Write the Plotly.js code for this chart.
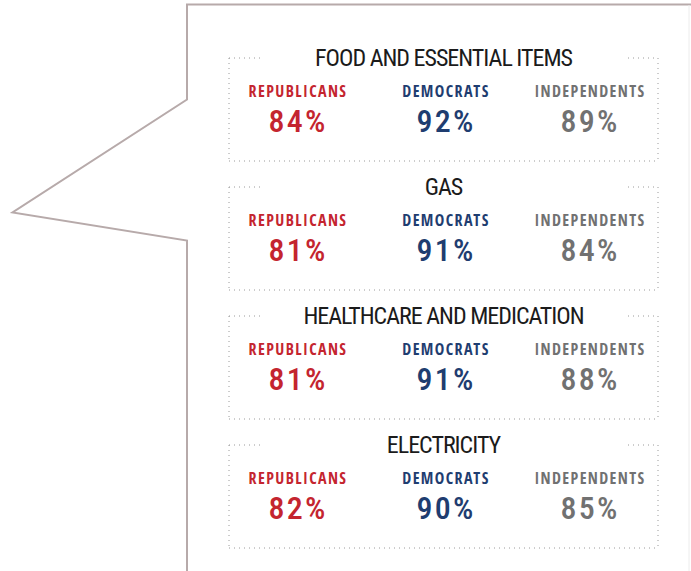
<!DOCTYPE html>
<html><head><meta charset="utf-8">
<script src="https://cdn.plot.ly/plotly-3.0.1.min.js"></script>
<style>body{margin:0;background:#fff}</style>
</head><body>
<div id="chart" style="width:691px;height:571px"></div>
<script>
// ---- data ----
var categories = ["FOOD AND ESSENTIAL ITEMS", "GAS", "HEALTHCARE AND MEDICATION", "ELECTRICITY"];
var parties = ["REPUBLICANS", "DEMOCRATS", "INDEPENDENTS"];
var republicans = [84, 81, 81, 82];
var democrats = [92, 91, 91, 90];
var independents = [89, 84, 88, 85];

// ---- layout constants (pixel axes) ----
var W = 691, H = 571;
var boxLeft = 229, boxRight = 658, boxTop0 = 58, boxH = 103, rowStep = 129;
var colX = [298, 446, 590];
var partyColors = ["#c4252f", "#1f3d70", "#717171"];
var series = [republicans, democrats, independents];
var titleFont = "Roboto Condensed";
var labelFont = "Open Sans Condensed";

var traces = [];
var cx = (boxLeft + boxRight) / 2;
traces.push({
  type: 'scatter', mode: 'text', showlegend: false, hoverinfo: 'skip',
  x: categories.map(function(){ return cx; }),
  y: categories.map(function(c, i){ return boxTop0 + 1.5 + i * rowStep; }),
  text: categories, textposition: 'middle center',
  textfont: {family: titleFont, size: 24, color: '#1b1b1b', weight: 400}
});
parties.forEach(function(p, j){
  traces.push({
    type: 'scatter', mode: 'text', showlegend: false, hoverinfo: 'skip',
    x: categories.map(function(){ return colX[j]; }),
    y: categories.map(function(c, i){ return boxTop0 + 35 + i * rowStep; }),
    text: categories.map(function(){ return p; }), textposition: 'middle center',
    textfont: {family: labelFont, size: 16, color: partyColors[j], weight: 700}
  });
});
series.forEach(function(s, j){
  traces.push({
    type: 'scatter', mode: 'text', showlegend: false, hoverinfo: 'skip',
    x: s.map(function(){ return colX[j]; }),
    y: s.map(function(v, i){ return boxTop0 + 66 + i * rowStep; }),
    text: s.map(function(v){ return v + '%'; }), textposition: 'middle center',
    textfont: {family: titleFont, size: 32, color: partyColors[j], weight: 500}
  });
});

var shapes = [];
var dot = {color: '#9a9a9a', width: 1, dash: '1px,4px'};
categories.forEach(function(c, i){
  var t = boxTop0 + i * rowStep, b = t + boxH;
  [[boxLeft, t, boxLeft, b], [boxRight, t, boxRight, b], [boxLeft, b, boxRight, b],
   [boxLeft, t, boxLeft + 31, t], [boxRight - 30, t, boxRight, t]].forEach(function(s){
    shapes.push({type: 'line', xref: 'x', yref: 'y', x0: s[0], y0: s[1], x1: s[2], y1: s[3], line: dot, layer: 'below'});
  });
});
// callout outline
shapes.push({type: 'path', xref: 'x', yref: 'y',
  path: 'M187,' + H + ' L187,240.5 L12.5,212.5 L187,99.5 L187,4.5 L' + W + ',4.5',
  line: {color: '#b7aaaa', width: 2}, layer: 'below'});
shapes.push({type: 'line', xref: 'x', yref: 'y', x0: 689, y0: 5, x1: 689, y1: H,
  line: {color: '#ececec', width: 1}, layer: 'below'});

var layout = {
  width: W, height: H, margin: {l: 0, r: 0, t: 0, b: 0},
  paper_bgcolor: '#fff', plot_bgcolor: '#fff',
  xaxis: {range: [0, W], visible: false, fixedrange: true},
  yaxis: {range: [H, 0], visible: false, fixedrange: true},
  shapes: shapes
};
Plotly.newPlot('chart', traces, layout, {staticPlot: true}).then(function(){
  var tr = document.querySelectorAll('.scatterlayer .trace');
  var ls = ['-1px', '1.4px', '1.4px', '1.4px', '2.2px', '2.2px', '2.2px'];
  tr.forEach(function(g, k){
    g.querySelectorAll('text').forEach(function(t){ t.style.letterSpacing = ls[k]; });
  });
});
</script></body></html>
